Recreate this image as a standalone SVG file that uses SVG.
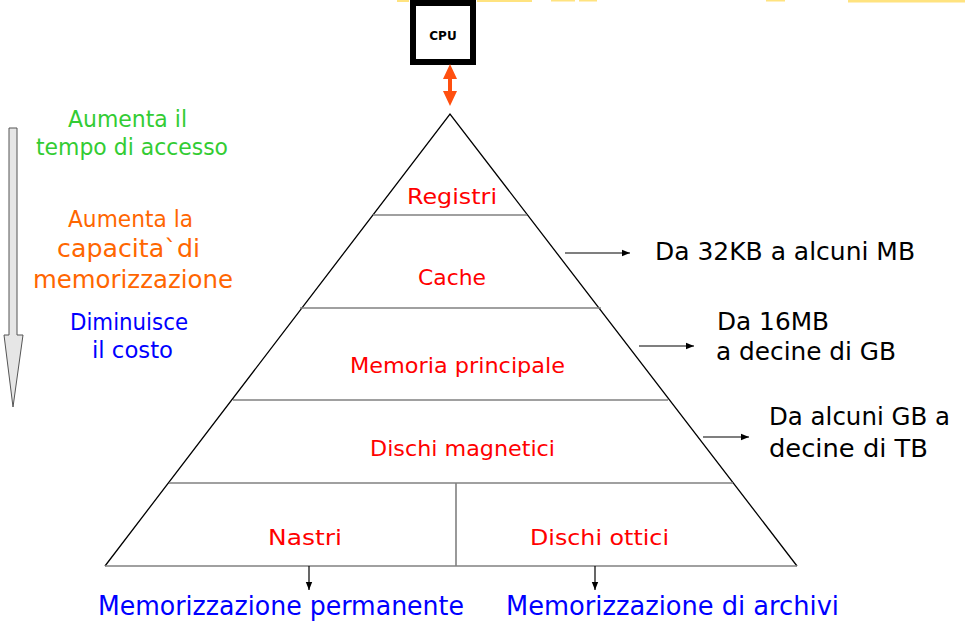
<svg xmlns="http://www.w3.org/2000/svg" width="965" height="635" viewBox="0 0 965 635">
<style>
text{font-family:"DejaVu Sans","Liberation Sans",sans-serif;}
.lvl{fill:#ff0000;font-size:22px;}
.info{fill:#000;font-size:24px;}
.bot{fill:#0000ff;font-size:26px;}
.sep{stroke:#808080;stroke-width:1.6;fill:none;}
.conn{stroke:#000;stroke-width:1.2;fill:none;}
</style>
<defs>
<marker id="ah" viewBox="0 0 10 10" refX="10" refY="5" markerWidth="8" markerHeight="8" markerUnits="userSpaceOnUse" orient="auto">
<path d="M0,1 L10,5 L0,9 Z" fill="#000"/>
</marker>
</defs>
<rect width="965" height="635" fill="#fff"/>
<g id="topstrip" fill="#ffd84a" opacity="0.7">
<rect x="397" y="0" width="12" height="2"/>
<rect x="477" y="0" width="55" height="2"/>
<rect x="551" y="0" width="24" height="1.5"/>
<rect x="579" y="0" width="18" height="1.5"/>
<rect x="766" y="0" width="19" height="1.5"/>
<rect x="848" y="0" width="117" height="2.5"/>
</g>
<g id="cpu">
<rect x="413" y="3" width="60" height="59" fill="#fff" stroke="#000" stroke-width="6"/>
<text x="443" y="40" text-anchor="middle" font-size="12" font-weight="bold" fill="#000">CPU</text>
</g>
<g id="cpu-link" fill="#ff4f0f">
<rect x="448" y="74" width="4" height="22"/>
<path d="M443,79 L450,64 L457,79 Z"/>
<path d="M443,91 L450,106 L457,91 Z"/>
</g>
<g id="pyramid">
<path d="M105,566 L450,114 L797,566" fill="none" stroke="#000" stroke-width="1.3"/>
<line class="sep" x1="105" y1="566" x2="797" y2="566"/>
<line class="sep" x1="373" y1="215" x2="527" y2="215"/>
<line class="sep" x1="300" y1="308" x2="601" y2="308"/>
<line class="sep" x1="233" y1="400" x2="668" y2="400"/>
<line class="sep" x1="169" y1="483" x2="733" y2="483"/>
<line class="sep" x1="456" y1="483" x2="456" y2="566"/>
</g>
<g id="registri"><text class="lvl" x="407" y="204" textLength="90" lengthAdjust="spacingAndGlyphs">Registri</text></g>
<g id="cache"><text class="lvl" x="418" y="285" textLength="68" lengthAdjust="spacingAndGlyphs">Cache</text></g>
<g id="memoria"><text class="lvl" x="350" y="373" textLength="215" lengthAdjust="spacingAndGlyphs">Memoria principale</text></g>
<g id="dischi-magnetici"><text class="lvl" x="370" y="456" textLength="185" lengthAdjust="spacingAndGlyphs">Dischi magnetici</text></g>
<g id="nastri"><text class="lvl" x="268" y="545" textLength="74" lengthAdjust="spacingAndGlyphs">Nastri</text></g>
<g id="dischi-ottici"><text class="lvl" x="530" y="545" textLength="139" lengthAdjust="spacingAndGlyphs">Dischi ottici</text></g>
<g id="connectors">
<line class="conn" x1="565" y1="253" x2="630" y2="253" marker-end="url(#ah)"/>
<line class="conn" x1="639" y1="346" x2="694" y2="346" marker-end="url(#ah)"/>
<line class="conn" x1="703" y1="437" x2="749" y2="437" marker-end="url(#ah)"/>
<line class="conn" x1="309" y1="566" x2="309" y2="590" marker-end="url(#ah)"/>
<line class="conn" x1="595" y1="566" x2="595" y2="590" marker-end="url(#ah)"/>
</g>
<g id="info-cache"><text class="info" x="655" y="260" textLength="260" lengthAdjust="spacingAndGlyphs">Da 32KB a alcuni MB</text></g>
<g id="info-memoria">
<text class="info" x="717" y="330" textLength="112" lengthAdjust="spacingAndGlyphs">Da 16MB</text>
<text class="info" x="716" y="360" textLength="180" lengthAdjust="spacingAndGlyphs">a decine di GB</text>
</g>
<g id="info-dischi">
<text class="info" x="769" y="425" textLength="181" lengthAdjust="spacingAndGlyphs">Da alcuni GB a</text>
<text class="info" x="769" y="457" textLength="159" lengthAdjust="spacingAndGlyphs">decine di TB</text>
</g>
<g id="permanente"><text class="bot" x="98" y="615" textLength="366" lengthAdjust="spacingAndGlyphs">Memorizzazione permanente</text></g>
<g id="archivi"><text class="bot" x="506" y="615" textLength="333" lengthAdjust="spacingAndGlyphs">Memorizzazione di archivi</text></g>
<g id="side-arrow">
<path d="M9,128 L17,128 L17,335 L23,335 L13,407 L4,335 L9,335 Z" fill="#e6e6e6" stroke="#555" stroke-width="1"/>
</g>
<g id="side-texts" font-size="23">
<text x="68" y="127" fill="#33cc33" textLength="119" lengthAdjust="spacingAndGlyphs">Aumenta il</text>
<text x="36" y="155" fill="#33cc33" textLength="192" lengthAdjust="spacingAndGlyphs">tempo di accesso</text>
<text x="68" y="227" fill="#ff6600" textLength="125" lengthAdjust="spacingAndGlyphs">Aumenta la</text>
<text x="57" y="257" fill="#ff6600" font-size="24" textLength="143" lengthAdjust="spacingAndGlyphs">capacita`di</text>
<text x="33" y="288" fill="#ff6600" font-size="24" textLength="200" lengthAdjust="spacingAndGlyphs">memorizzazione</text>
<text x="70" y="330" fill="#0000ff" textLength="118" lengthAdjust="spacingAndGlyphs">Diminuisce</text>
<text x="92" y="358" fill="#0000ff" textLength="81" lengthAdjust="spacingAndGlyphs">il costo</text>
</g>
</svg>
